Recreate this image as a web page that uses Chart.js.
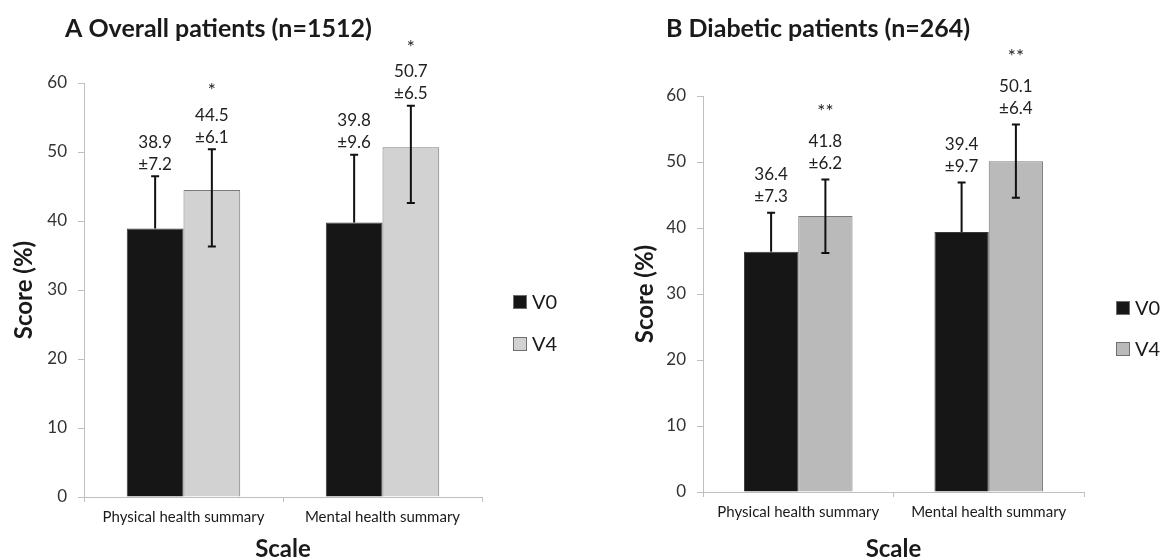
<!DOCTYPE html>
<html>
<head>
<meta charset="utf-8">
<script src="https://cdn.jsdelivr.net/npm/chart.js@4.4.1/dist/chart.umd.min.js"></script>
<style>
  html, body { margin: 0; padding: 0; background: #fff; }
  #wrap { position: relative; width: 1161px; height: 559px; overflow: hidden; }
  .box { position: absolute; top: 0; height: 559px; }
</style>
</head>
<body>
<div id="wrap">
  <div class="box" style="left:0;width:580px"><canvas id="cA" width="580" height="559"></canvas></div>
  <div class="box" style="left:580px;width:581px"><canvas id="cB" width="581" height="559"></canvas></div>
</div>
<script>
// ---- data ----
const categories = ['Physical health summary', 'Mental health summary'];
const seriesNames = ['V0', 'V4'];
const yTicks = [0, 10, 20, 30, 40, 50, 60];

// Panel A: Overall patients (n=1512)
const aTitle = 'A Overall patients (n=1512)';
const aV0 = [38.9, 39.8];
const aV4 = [44.5, 50.7];
const aV0sd = ['±7.2', '±9.6'];
const aV4sd = ['±6.1', '±6.5'];
const aV0hi = [46.5, 49.6];
const aV4hi = [50.4, 56.7];
const aV4lo = [36.3, 42.6];
const aSig = ['*', '*'];

// Panel B: Diabetic patients (n=264)
const bTitle = 'B Diabetic patients (n=264)';
const bV0 = [36.4, 39.4];
const bV4 = [41.8, 50.1];
const bV0sd = ['±7.3', '±9.7'];
const bV4sd = ['±6.2', '±6.4'];
const bV0hi = [42.3, 46.9];
const bV4hi = [47.35, 55.7];
const bV4lo = [36.2, 44.6];
const bSig = ['**', '**'];

const FONT = 'Lato, "Open Sans", sans-serif';

const annotPlugin = {
  id: 'annot',
  afterDatasetsDraw(chart, args, opts) {
    const ctx = chart.ctx;
    const y = chart.scales.y;
    ctx.save();
    chart.data.datasets.forEach((ds, di) => {
      const meta = chart.getDatasetMeta(di);
      const e = opts.err[di];
      meta.data.forEach((bar, i) => {
        const x = bar.x;
        const yh = y.getPixelForValue(e.hi[i]);
        const yl = e.lo ? y.getPixelForValue(e.lo[i]) : bar.y;
        ctx.strokeStyle = '#111';
        ctx.lineWidth = 2;
        ctx.beginPath();
        ctx.moveTo(x, yl); ctx.lineTo(x, yh);
        ctx.moveTo(x - 4, yh); ctx.lineTo(x + 4, yh);
        if (e.lo) { ctx.moveTo(x - 4, yl); ctx.lineTo(x + 4, yl); }
        ctx.stroke();
        // labels
        ctx.fillStyle = '#222';
        ctx.textAlign = 'center';
        ctx.textBaseline = 'middle';
        ctx.font = '17px ' + FONT;
        const l2 = yh - opts.gap;
        const l1 = l2 - 22;
        ctx.fillText(ds.data[i].toFixed(1), x, l1);
        ctx.fillText(e.sd[i], x, l2);
        if (e.sig) {
          ctx.font = '19px ' + FONT;
          ctx.fillText(e.sig[i], x, l1 - opts.starGap + 2);
        }
      });
    });
    // title
    ctx.fillStyle = '#1a1a1a';
    ctx.textAlign = 'left';
    ctx.textBaseline = 'middle';
    ctx.font = 'bold 25px ' + FONT;
    ctx.fillText(opts.title, opts.titleX, opts.titleY);
    // legend
    ctx.font = '20px ' + FONT;
    chart.data.datasets.forEach((ds, di) => {
      const cy = opts.legY[di];
      ctx.fillStyle = ds.backgroundColor;
      ctx.fillRect(opts.legX, cy - 7, 14, 14);
      ctx.strokeStyle = '#6f6f6f';
      ctx.lineWidth = 1;
      ctx.strokeRect(opts.legX + 0.5, cy - 6.5, 13, 13);
      ctx.fillStyle = '#1a1a1a';
      ctx.fillText(ds.label, opts.legX + 19, cy + 1);
    });
    ctx.restore();
  }
};

function makeChart(id, cfg) {
  return new Chart(document.getElementById(id), {
    type: 'bar',
    data: {
      labels: categories,
      datasets: [
        { label: seriesNames[0], data: cfg.v0, backgroundColor: '#161616', borderColor: '#3a3a3a', borderWidth: 1,
          categoryPercentage: 0.57, barPercentage: 1.0 },
        { label: seriesNames[1], data: cfg.v4, backgroundColor: cfg.c4, borderColor: '#7a7a7a', borderWidth: 1,
          categoryPercentage: 0.57, barPercentage: 1.0 }
      ]
    },
    options: {
      responsive: false,
      animation: false,
      events: [],
      layout: { padding: { left: cfg.padL, right: cfg.padR, top: cfg.top, bottom: 0 } },
      plugins: {
        legend: { display: false },
        tooltip: { enabled: false },
        annot: {
          err: [
            { hi: cfg.v0hi, lo: null, sd: cfg.v0sd, sig: null },
            { hi: cfg.v4hi, lo: cfg.v4lo, sd: cfg.v4sd, sig: cfg.sig }
          ],
          gap: cfg.gap, starGap: cfg.starGap,
          title: cfg.title, titleX: cfg.titleX, titleY: 29,
          legX: cfg.legX, legY: cfg.legY
        }
      },
      scales: {
        x: {
          afterFit: s => { s.height = cfg.xh; },
          grid: { display: true, offset: true, drawOnChartArea: false, drawTicks: true, tickLength: 5, color: '#bfbfbf' },
          border: { display: true, color: '#bfbfbf', width: 1 },
          ticks: { color: '#1a1a1a', font: { family: FONT, size: 15 }, padding: 6, maxRotation: 0 },
          title: { display: true, text: 'Scale', color: '#1a1a1a', font: { family: FONT, size: 24, weight: 'bold', lineHeight: 1 }, padding: { top: 0, bottom: -2 } }
        },
        y: {
          min: 0, max: 60,
          afterFit: s => { s.width = cfg.yw; },
          afterBuildTicks: s => { s.ticks = yTicks.map(v => ({ value: v })); },
          grid: { display: true, drawOnChartArea: false, drawTicks: true, tickLength: 6, color: '#bfbfbf' },
          border: { display: true, color: '#bfbfbf', width: 1 },
          ticks: { color: '#333', font: { family: FONT, size: 17 }, padding: 11 },
          title: { display: true, text: 'Score (%)', color: '#1a1a1a', font: { family: FONT, size: 24, weight: 'bold', lineHeight: 1.2 }, padding: { top: 10, bottom: 0 } }
        }
      }
    },
    plugins: [annotPlugin]
  });
}

makeChart('cA', {
  v0: aV0, v4: aV4, v0hi: aV0hi, v4hi: aV4hi, v4lo: aV4lo, v0sd: aV0sd, v4sd: aV4sd, sig: aSig,
  c4: '#d1d2d1', padL: 0, yw: 84, padR: 98, top: 83, xh: 62,
  gap: 12, starGap: 26, title: aTitle, titleX: 65, legX: 513, legY: [302, 344]
});
makeChart('cB', {
  v0: bV0, v4: bV4, v0hi: bV0hi, v4hi: bV4hi, v4lo: bV4lo, v0sd: bV0sd, v4sd: bV4sd, sig: bSig,
  c4: '#bababa', padL: 41, yw: 82, padR: 581 - 504, top: 96, xh: 67,
  gap: 16, starGap: 32, title: bTitle, titleX: 86, legX: 536, legY: [308, 349]
});
</script>
</body>
</html>
